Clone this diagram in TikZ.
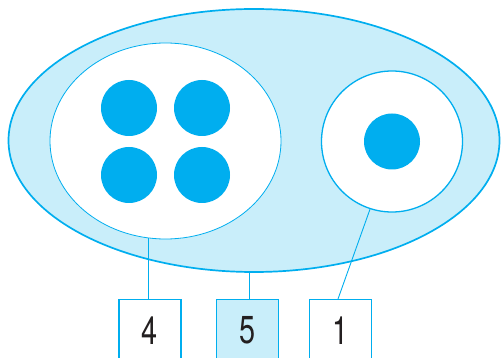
\documentclass[tikz,border=0pt]{standalone}
\usepackage{fontspec}
\setmainfont{TeX Gyre Heros}
\usetikzlibrary{shapes.geometric}
\definecolor{cyanb}{HTML}{00AEEF}
\definecolor{cyanl}{HTML}{C9EEFA}
\definecolor{ink}{HTML}{231F20}
\newcommand{\narrowdigit}[1]{\scalebox{0.74}[1]{#1}}
\tikzset{
  dot/.style={circle,fill=cyanb,inner sep=0pt,minimum size=56pt},
  labelbox/.style={draw=cyanb,line width=0.8pt,minimum width=62pt,minimum height=62pt,inner sep=0pt,anchor=north,text=ink,font=\fontsize{39}{39}\selectfont},
  leader/.style={draw=cyanb,line width=0.9pt}
}
\begin{document}
\begin{tikzpicture}[x=1pt,y=-1pt]
\useasboundingbox (0,0) rectangle (501,358);
\clip (0,0) rectangle (501,358);
\node[ellipse,draw=cyanb,fill=cyanl,line width=1.7pt,inner sep=0pt,minimum width=491pt,minimum height=263pt] (outer) at (254,140.5) {};
\node[ellipse,draw=cyanb,fill=white,line width=0.8pt,inner sep=0pt,minimum width=231pt,minimum height=196pt] (inner) at (165.5,141) {};
\node[circle,draw=cyanb,fill=white,line width=1.3pt,inner sep=0pt,minimum size=141pt] (c1) at (392,141.5) {};
\node[dot] (d1) at (129,108) {};
\node[dot] (d2) at (202,108) {};
\node[dot] (d3) at (129,175) {};
\node[dot] (d4) at (202,175) {};
\node[dot] (d5) at (392,141.5) {};
\node[labelbox,line width=1.4pt] (box4) at (150,299) {\narrowdigit{4}};
\node[labelbox,fill=cyanl] (box5) at (247.5,299) {\narrowdigit{5}};
\node[labelbox] (box1) at (340.3,299) {\narrowdigit{1}};
\draw[leader] (inner.260) -- (inner.260 |- box4.north);
\draw[leader] ([xshift=1.5pt]box5.north) -- ([xshift=1.5pt]box5.north |- outer.south);
\draw[leader] ([xshift=-2.3pt]box1.north) -- (c1.252);
\end{tikzpicture}
\end{document}
